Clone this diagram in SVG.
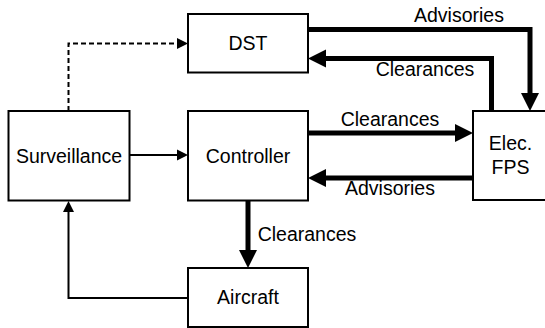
<svg xmlns="http://www.w3.org/2000/svg" width="545" height="328" viewBox="0 0 545 328">
<style>
.box{fill:#fff;stroke:#000;stroke-width:2}
text{font-family:"Liberation Sans",Arial,sans-serif;font-size:19.5px;fill:#000;text-anchor:middle}
.thick{fill:none;stroke:#000;stroke-width:5}
.thin{fill:none;stroke:#000;stroke-width:2}
.dash{stroke-dasharray:5,3}
</style>
<defs>
<marker id="ah" markerUnits="userSpaceOnUse" markerWidth="19" markerHeight="19" refX="0" refY="9" orient="auto" viewBox="0 0 19 19" overflow="visible">
<path d="M0,0 L18,9 L0,18 z" fill="#000"/>
</marker>
<marker id="ahs" markerUnits="userSpaceOnUse" markerWidth="12" markerHeight="12" refX="0" refY="5.5" orient="auto" viewBox="0 0 12 12" overflow="visible">
<path d="M0,0 L11,5.5 L0,11 z" fill="#000"/>
</marker>
</defs>
<rect width="545" height="328" fill="#fff"/>
<g id="connectors">
<path class="thin dash" d="M68.5,111 V43.5 H177" marker-end="url(#ahs)"/>
<path class="thin" d="M129,155 H177" marker-end="url(#ahs)"/>
<path class="thin" d="M188,298 H68.5 V212" marker-end="url(#ahs)"/>
<path class="thick" d="M308,29.5 H530 V93" marker-end="url(#ah)"/>
<path class="thick" d="M491.5,111 V58.5 H326" marker-end="url(#ah)"/>
<path class="thick" d="M308,133 H455" marker-end="url(#ah)"/>
<path class="thick" d="M473,178 H326" marker-end="url(#ah)"/>
<path class="thick" d="M248,201 V250" marker-end="url(#ah)"/>
<text x="459" y="22">Advisories</text>
<text x="425" y="76">Clearances</text>
<text x="390" y="126">Clearances</text>
<text x="390" y="195">Advisories</text>
<text x="307" y="241">Clearances</text>
</g>
<g id="dst">
<rect class="box" x="188" y="14" width="120" height="58.5"/>
<text x="248" y="50">DST</text>
</g>
<g id="surveillance">
<rect class="box" x="8.5" y="111" width="121" height="89.5"/>
<text x="69" y="162.5">Surveillance</text>
</g>
<g id="controller">
<rect class="box" x="188" y="111" width="120" height="89.5"/>
<text x="248" y="162.5">Controller</text>
</g>
<g id="fps">
<rect class="box" x="473" y="111" width="80" height="89"/>
<text x="510.5" y="150">Elec.</text>
<text x="510.5" y="173.5">FPS</text>
</g>
<g id="aircraft">
<rect class="box" x="188" y="268" width="120" height="59"/>
<text x="248" y="303.5">Aircraft</text>
</g>
</svg>
